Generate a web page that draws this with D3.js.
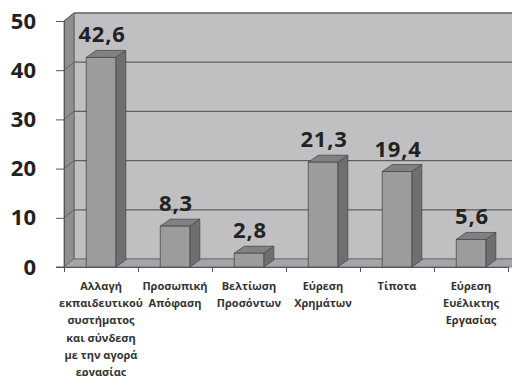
<!DOCTYPE html>
<html>
<head>
<meta charset="utf-8">
<script src="https://cdn.jsdelivr.net/npm/d3@7"></script>
<style>
  html, body { margin: 0; padding: 0; background: #fff; }
  svg { display: block; }
</style>
</head>
<body>
<svg id="chart" width="512" height="376"></svg>
<script>
const categories = [
  "Αλλαγή\nεκπαιδευτικού\nσυστήματος\nκαι σύνδεση\nμε την αγορά\nεργασίας",
  "Προσωπική\nΑπόφαση",
  "Βελτίωση\nΠροσόντων",
  "Εύρεση\nΧρημάτων",
  "Τίποτα",
  "Εύρεση\nΕυέλικτης\nΕργασίας"
];
const values = [42.6, 8.3, 2.8, 21.3, 19.4, 5.6];
const valueLabels = ["42,6", "8,3", "2,8", "21,3", "19,4", "5,6"];
const yTicks = [0, 10, 20, 30, 40, 50];

const svg = d3.select("#chart");
const x = d3.scaleBand().domain(categories).range([64, 508]).paddingInner(0.6).paddingOuter(0.3);
const y = d3.scaleLinear().domain([0, 50]).range([267, 21]);

const wdx = 10, wdy = -8;   // wall depth
const bdx = 10, bdy = -7;   // bar depth
const x0 = x.range()[0], x1 = x.range()[1];
const yTop = y(50), yBot = y(0);

// back wall
svg.append("rect")
  .attr("x", x0 + wdx).attr("y", yTop + wdy)
  .attr("width", x1 - x0 + 20).attr("height", yBot - yTop)
  .attr("fill", "#c0c0c3").attr("stroke", "#6a6a6a").attr("stroke-width", 1);
// side wall
svg.append("polygon")
  .attr("points", [[x0, yTop], [x0 + wdx, yTop + wdy], [x0 + wdx, yBot + wdy], [x0, yBot]].map(p => p.join(",")).join(" "))
  .attr("fill", "#8f8f91").attr("stroke", "#5a5a5a").attr("stroke-width", 0.8);
// floor
svg.append("polygon")
  .attr("points", [[x0, yBot], [x0 + wdx, yBot + wdy], [x1 + wdx + 10, yBot + wdy], [x1 + 10, yBot]].map(p => p.join(",")).join(" "))
  .attr("fill", "#a5a5a7").attr("stroke", "#6a6a6a").attr("stroke-width", 0.8);

// gridlines
const grid = svg.append("g");
yTicks.filter(t => t > 0).forEach(t => {
  grid.append("line")
    .attr("x1", x0 + wdx).attr("x2", 512)
    .attr("y1", y(t) + wdy).attr("y2", y(t) + wdy)
    .attr("stroke", "#5f5f5f").attr("stroke-width", 1.2);
  grid.append("line")
    .attr("x1", x0).attr("x2", x0 + wdx)
    .attr("y1", y(t)).attr("y2", y(t) + wdy)
    .attr("stroke", "#5f5f5f").attr("stroke-width", 1);
});

// bars
const bw = x.bandwidth();
const bars = svg.append("g").selectAll("g").data(categories).join("g");
bars.append("polygon") // side
  .attr("points", (c, i) => {
    const xr = x(c) + bw, yt = y(values[i]);
    return [[xr, yt], [xr + bdx, yt + bdy], [xr + bdx, yBot + bdy], [xr, yBot]].map(p => p.join(",")).join(" ");
  })
  .attr("fill", "#6f6f71").attr("stroke", "#4a4a4a").attr("stroke-width", 0.8);
bars.append("polygon") // top
  .attr("points", (c, i) => {
    const xl = x(c), yt = y(values[i]);
    return [[xl, yt], [xl + bdx, yt + bdy], [xl + bw + bdx, yt + bdy], [xl + bw, yt]].map(p => p.join(",")).join(" ");
  })
  .attr("fill", "#818183").attr("stroke", "#4a4a4a").attr("stroke-width", 0.8);
bars.append("rect") // front
  .attr("x", c => x(c)).attr("y", (c, i) => y(values[i]))
  .attr("width", bw).attr("height", (c, i) => yBot - y(values[i]))
  .attr("fill", "#9c9c9e").attr("stroke", "#4a4a4a").attr("stroke-width", 0.8);

// value labels
bars.append("text")
  .attr("x", c => x(c) + bw / 2 + 1)
  .attr("y", (c, i) => y(values[i]) + bdy - 8)
  .attr("text-anchor", "middle")
  .attr("font-family", "'Open Sans', sans-serif")
  .attr("font-weight", "700").attr("font-size", 22)
  .attr("letter-spacing", 0.8)
  .attr("fill", "#222")
  .text((c, i) => valueLabels[i]);

// y axis
const yAxis = svg.append("g").attr("transform", `translate(${x0},0)`)
  .call(d3.axisLeft(y).tickValues(yTicks).tickSize(8).tickPadding(20).tickFormat(d3.format("d")));
yAxis.select(".domain").attr("stroke", "#555");
yAxis.selectAll(".tick line").attr("stroke", "#555");
yAxis.selectAll(".tick text")
  .attr("font-family", "'Open Sans', sans-serif")
  .attr("font-weight", "700").attr("font-size", 22)
  .attr("fill", "#222");

// x axis line and boundary ticks
const xAxisScale = d3.scaleLinear().domain([0, categories.length]).range([x0, x1]);
const xAxis = svg.append("g").attr("transform", `translate(0,${yBot})`)
  .call(d3.axisBottom(xAxisScale).tickValues(d3.range(categories.length + 1)).tickSize(5).tickFormat(""));
xAxis.select(".domain").attr("stroke", "#555");
xAxis.selectAll(".tick line").attr("stroke", "#555");
svg.append("line").attr("x1", x0 - 8).attr("x2", x0).attr("y1", yBot).attr("y2", yBot).attr("stroke", "#555");

// category labels
const catG = svg.append("g");
categories.forEach(c => {
  const t = catG.append("text")
    .attr("x", x(c) + bw / 2)
    .attr("y", 290)
    .attr("text-anchor", "middle")
    .attr("font-family", "'Open Sans', sans-serif")
    .attr("font-weight", "700").attr("font-size", 11)
    .attr("fill", "#333");
  c.split("\n").forEach((line, j) => {
    t.append("tspan").attr("x", x(c) + bw / 2).attr("dy", j === 0 ? 0 : 17.2).text(line);
  });
});
</script>
</body>
</html>
